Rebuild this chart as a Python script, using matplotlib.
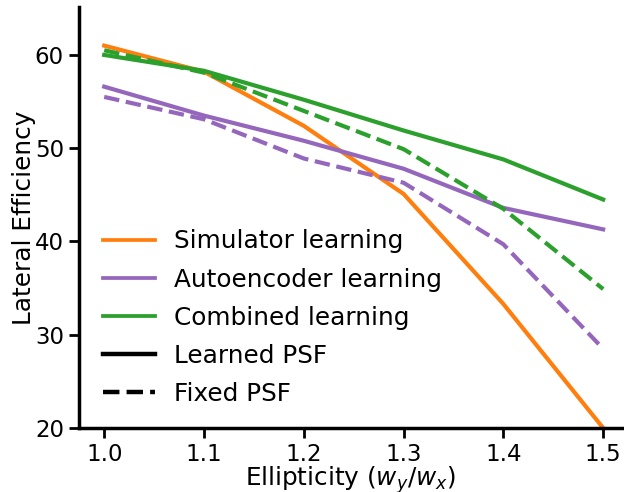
import matplotlib
matplotlib.use("Agg")
import matplotlib.pyplot as plt
from matplotlib.lines import Line2D

ellipticity = [1.0, 1.1, 1.2, 1.3, 1.4, 1.5]

sim_learned = [61.0, 58.2, 52.4, 45.1, 33.3, 20.0]
auto_learned = [56.6, 53.5, 50.8, 47.8, 43.6, 41.3]
auto_fixed = [55.5, 53.1, 48.9, 46.3, 39.7, 28.5]
comb_learned = [60.0, 58.3, 55.2, 51.9, 48.8, 44.5]
comb_fixed = [60.5, 58.1, 54.0, 49.9, 43.5, 34.9]

orange = "#ff7f0e"
purple = "#9467bd"
green = "#2ca02c"

plt.rcParams["font.family"] = "DejaVu Sans"
plt.rcParams["font.size"] = 17.8

fig = plt.figure(figsize=(6.24, 4.92), dpi=100)
ax = fig.add_axes([0.127, 0.130, 0.870, 0.855])

lw = 3
ax.plot(ellipticity, sim_learned, color=orange, lw=lw)
ax.plot(ellipticity, auto_learned, color=purple, lw=lw)
ax.plot(ellipticity, auto_fixed, color=purple, lw=lw, ls="--")
ax.plot(ellipticity, comb_learned, color=green, lw=lw)
ax.plot(ellipticity, comb_fixed, color=green, lw=lw, ls="--")

ax.set_xlim(0.975, 1.519)
ax.set_ylim(20, 65.1)
ax.set_xticks(ellipticity)
ax.set_yticks([20, 30, 40, 50, 60])
ax.set_xlabel("Ellipticity ($w_y/w_x$)", labelpad=-1.5)
ax.set_ylabel("Lateral Efficiency")
ax.yaxis.set_label_coords(-0.079, 0.5)

for side in ["top", "right"]:
    ax.spines[side].set_visible(False)
for side in ["left", "bottom"]:
    ax.spines[side].set_linewidth(2.5)
ax.tick_params(width=2, length=7.5, labelsize=16.5)

handles = [
    Line2D([], [], color=orange, lw=2.7),
    Line2D([], [], color=purple, lw=2.7),
    Line2D([], [], color=green, lw=2.7),
    Line2D([], [], color="black", lw=3.2),
    Line2D([], [], color="black", lw=3.2, ls="--"),
]
labels = ["Simulator learning", "Autoencoder learning", "Combined learning",
          "Learned PSF", "Fixed PSF"]
ax.legend(handles, labels, loc="lower left", frameon=False,
          bbox_to_anchor=(0.002, 0.0), handlelength=2.1, labelspacing=0.57)

fig.savefig("out.png", dpi=100)
